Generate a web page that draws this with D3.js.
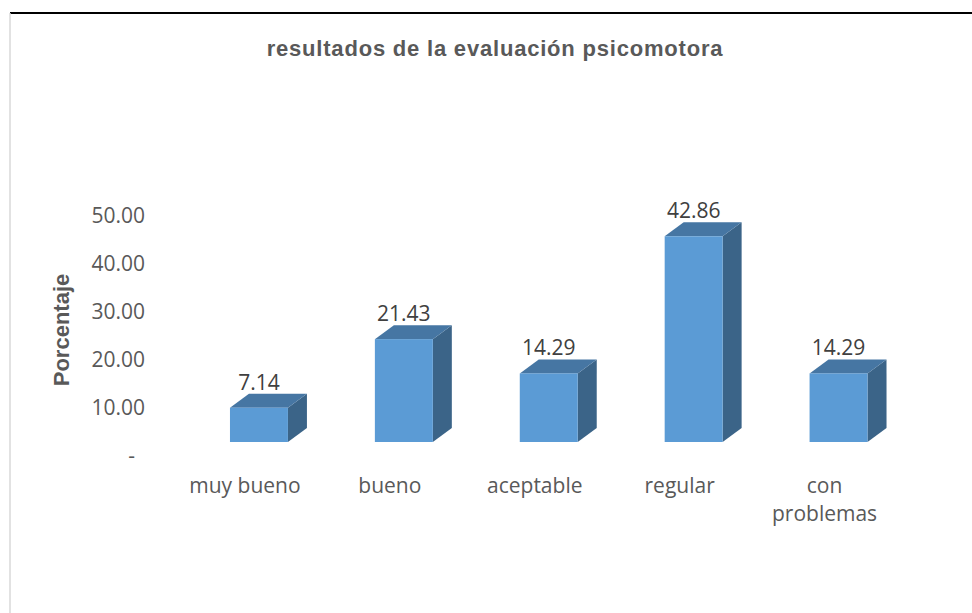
<!DOCTYPE html>
<html>
<head>
<meta charset="utf-8">
<script src="https://cdn.jsdelivr.net/npm/d3@7"></script>
<style>
  html, body { margin: 0; padding: 0; background: #fff; }
  svg { display: block; }
</style>
</head>
<body>
<svg width="972" height="613"></svg>
<script>
// Data
const categories = ["muy bueno", "bueno", "aceptable", "regular", "con problemas"];
const values = [7.14, 21.43, 14.29, 42.86, 14.29];
const tickValues = [0, 10, 20, 30, 40, 50];

const svg = d3.select("svg");

// frame of the chart area (only top and left edges are visible)
svg.append("line")
    .attr("x1", 10).attr("x2", 972).attr("y1", 13).attr("y2", 13)
    .attr("stroke", "#000").attr("stroke-width", 2);
svg.append("line")
    .attr("x1", 10).attr("x2", 10).attr("y1", 13).attr("y2", 613)
    .attr("stroke", "#d9d9d9").attr("stroke-width", 1.5);

// Title
svg.append("text")
    .attr("x", 495).attr("y", 56)
    .attr("text-anchor", "middle")
    .style("font-family", "'Liberation Sans', Arial, sans-serif")
    .style("font-weight", "bold")
    .style("font-size", "22px")
    .style("letter-spacing", "0.8px")
    .attr("fill", "#595959")
    .text("resultados de la evaluación psicomotora");

// Scales
const x = d3.scaleBand()
    .domain(categories)
    .range([186.5, 911])
    .paddingInner(0.6)
    .paddingOuter(0.3);

const y = d3.scaleLinear()
    .domain([0, 50])
    .range([442, 202]);

// 3D depth offset
const dx = 19, dy = -14;

// y axis tick labels (no axis line)
const yAxis = d3.axisLeft(y)
    .tickValues(tickValues)
    .tickSize(0)
    .tickFormat(d => d === 0 ? "-" : d3.format(".2f")(d));

const gy = svg.append("g")
    .attr("transform", "translate(145, 0)")
    .call(yAxis);
gy.select(".domain").remove();
gy.selectAll("text")
    .attr("x", 0)
    .attr("dy", "20px")
    .attr("fill", "#595959")
    .style("font-family", "'Open Sans', sans-serif")
    .style("font-size", "21px");
gy.selectAll(".tick")
    .filter(d => d === 0)
    .select("text")
    .attr("x", -10);

// y axis title
svg.append("text")
    .attr("transform", "translate(69, 330) rotate(-90)")
    .attr("text-anchor", "middle")
    .style("font-family", "'Liberation Sans', Arial, sans-serif")
    .style("font-weight", "bold")
    .style("font-size", "22px")
    .attr("fill", "#595959")
    .text("Porcentaje");

// Bars
const bars = svg.append("g").selectAll("g")
    .data(categories.map((c, i) => ({ cat: c, val: values[i] })))
    .enter()
    .append("g");

// side face
bars.append("path")
    .attr("fill", "#3b6488")
    .attr("d", d => {
        const x1 = x(d.cat) + x.bandwidth();
        const yt = y(d.val), yb = y(0);
        return `M${x1},${yt} L${x1 + dx},${yt + dy} L${x1 + dx},${yb + dy} L${x1},${yb} Z`;
    });

// top face
bars.append("path")
    .attr("fill", "#4676a3")
    .attr("d", d => {
        const x0 = x(d.cat), x1 = x0 + x.bandwidth();
        const yt = y(d.val);
        return `M${x0},${yt} L${x0 + dx},${yt + dy} L${x1 + dx},${yt + dy} L${x1},${yt} Z`;
    });

// front face
bars.append("rect")
    .attr("x", d => x(d.cat))
    .attr("y", d => y(d.val))
    .attr("width", x.bandwidth())
    .attr("height", d => y(0) - y(d.val))
    .attr("fill", "#5b9bd5");

// value labels
bars.append("text")
    .attr("x", d => x(d.cat) + x.bandwidth() / 2)
    .attr("y", d => y(d.val) - 18)
    .attr("text-anchor", "middle")
    .attr("fill", "#404040")
    .style("font-family", "'Open Sans', sans-serif")
    .style("font-size", "21px")
    .text(d => d3.format(".2f")(d.val));

// category labels
const catLabels = svg.append("g").selectAll("text")
    .data(categories)
    .enter()
    .append("text")
    .attr("x", d => x(d) + x.bandwidth() / 2 - 14)
    .attr("y", 493)
    .attr("text-anchor", "middle")
    .attr("fill", "#595959")
    .style("font-family", "'Open Sans', sans-serif")
    .style("font-size", "21px");

catLabels.each(function (d) {
    const t = d3.select(this);
    const words = d === "con problemas" ? ["con", "problemas"] : [d];
    words.forEach((w, i) => {
        t.append("tspan")
            .attr("x", t.attr("x"))
            .attr("dy", i === 0 ? 0 : 28)
            .text(w);
    });
});
</script>
</body>
</html>
